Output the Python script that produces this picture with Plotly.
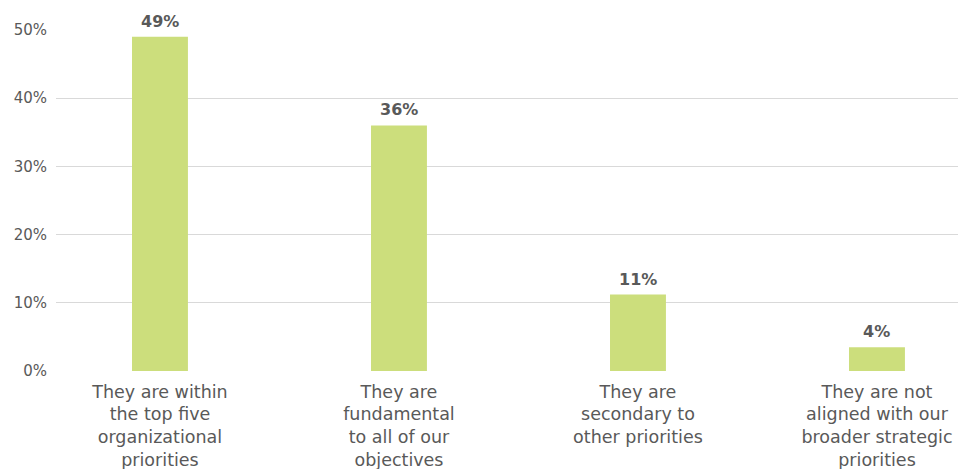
import plotly.graph_objects as go

categories = [
    "They are within<br>the top five<br>organizational<br>priorities",
    "They are<br>fundamental<br>to all of our<br>objectives",
    "They are<br>secondary to<br>other priorities",
    "They are not<br>aligned with our<br>broader strategic<br>priorities",
]
values = [49, 36, 11.2, 3.5]
value_labels = ["49%", "36%", "11%", "4%"]
y_ticks = [0, 10, 20, 30, 40, 50]
y_tick_labels = ["0%", "10%", "20%", "30%", "40%", "50%"]

xpos = list(range(len(categories)))
FONT = "DejaVu Sans"
GREY = "#595959"

fig = go.Figure(go.Bar(
    x=xpos, y=values, width=0.234,
    marker=dict(color="#CCDE7C", line=dict(width=0)),
    hoverinfo="skip",
))

for xi, v, lab in zip(xpos, values, value_labels):
    fig.add_annotation(
        x=xi, y=v, text=f"<b>{lab}</b>", showarrow=False,
        yanchor="bottom", yshift=4,
        font=dict(family=FONT, size=16, color=GREY),
    )

fig.update_layout(
    width=968, height=469,
    margin=dict(l=56, r=10, t=30, b=98, autoexpand=False),
    plot_bgcolor="white", paper_bgcolor="white",
    showlegend=False,
    font=dict(family=FONT, color=GREY),
    xaxis=dict(
        range=[-0.435, 3.339], tickvals=xpos, ticktext=categories,
        tickfont=dict(size=17.5, color=GREY), showgrid=False,
        zeroline=False, showline=False, ticks="", automargin=False,
        ticklabelstandoff=8,
    ),
    yaxis=dict(
        range=[0, 50], tickvals=y_ticks, ticktext=y_tick_labels,
        tickfont=dict(size=15, color=GREY), gridcolor="#D9D9D9",
        gridwidth=1, zeroline=False, showline=False, ticks="",
        ticklabelstandoff=8, automargin=False,
    ),
)

fig.write_html("out.html", config={"displayModeBar": False},
               post_script="document.body.style.margin='0';")
